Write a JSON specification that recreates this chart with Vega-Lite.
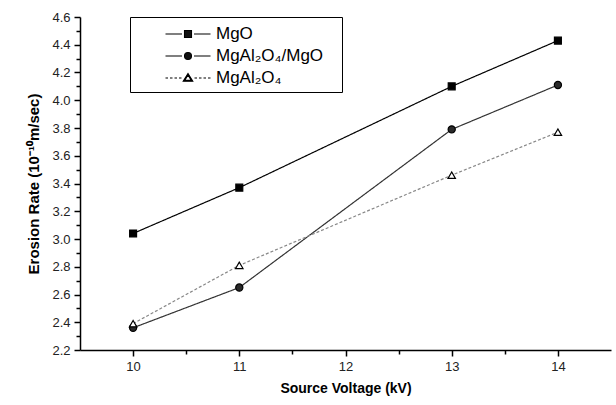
{
  "$schema": "https://vega.github.io/schema/vega-lite/v6.json",
  "width": 531,
  "height": 333,
  "autosize": {"type": "none"},
  "padding": {"left": 80, "top": 17, "right": 5, "bottom": 55},
  "background": "white",
  "config": {
    "view": {"stroke": null},
    "font": "Liberation Sans"
  },
  "data": {
    "values": [
      {"series": "MgO", "voltage": 10, "rate": 3.04},
      {"series": "MgO", "voltage": 11, "rate": 3.37},
      {"series": "MgO", "voltage": 13, "rate": 4.10},
      {"series": "MgO", "voltage": 14, "rate": 4.43},
      {"series": "MgAl₂O₄/MgO", "voltage": 10, "rate": 2.36},
      {"series": "MgAl₂O₄/MgO", "voltage": 11, "rate": 2.65},
      {"series": "MgAl₂O₄/MgO", "voltage": 13, "rate": 3.79},
      {"series": "MgAl₂O₄/MgO", "voltage": 14, "rate": 4.11},
      {"series": "MgAl₂O₄", "voltage": 10, "rate": 2.39},
      {"series": "MgAl₂O₄", "voltage": 11, "rate": 2.81},
      {"series": "MgAl₂O₄", "voltage": 13, "rate": 3.46},
      {"series": "MgAl₂O₄", "voltage": 14, "rate": 3.77}
    ]
  },
  "encoding": {
    "x": {
      "field": "voltage", "type": "quantitative",
      "scale": {"domain": [9.5, 14.5], "nice": false, "zero": false},
      "axis": {
        "title": "Source Voltage (kV)",
        "values": [10, 10.5, 11, 11.5, 12, 12.5, 13, 13.5, 14],
        "labelExpr": "datum.value % 1 == 0 ? format(datum.value, 'd') : ''",
        "grid": false,
        "domainColor": "black", "domainWidth": 1.5,
        "tickColor": "black", "tickWidth": 1.5,
        "tickSize": {"condition": {"test": "datum.value % 1 == 0", "value": 6}, "value": 4},
        "labelFontSize": 13, "labelColor": "#222", "labelPadding": 4,
        "titleFontSize": 14, "titleFontWeight": "bold", "titleColor": "black", "titlePadding": 8
      }
    },
    "y": {
      "field": "rate", "type": "quantitative",
      "scale": {"domain": [2.2, 4.6], "nice": false, "zero": false},
      "axis": {
        "title": "Erosion Rate (10⁻¹⁰m/sec)",
        "values": [2.2, 2.3, 2.4, 2.5, 2.6, 2.7, 2.8, 2.9, 3.0, 3.1, 3.2, 3.3, 3.4, 3.5, 3.6, 3.7, 3.8, 3.9, 4.0, 4.1, 4.2, 4.3, 4.4, 4.5, 4.6],
        "labelExpr": "round(datum.value * 10) % 2 == 0 ? format(datum.value, '.1f') : ''",
        "grid": false,
        "domainColor": "black", "domainWidth": 1.5,
        "tickColor": "black", "tickWidth": 1.5,
        "tickSize": {"condition": {"test": "round(datum.value * 10) % 2 == 0", "value": 6}, "value": 4},
        "labelFontSize": 13, "labelColor": "#222", "labelPadding": 4,
        "titleFontSize": 15, "titleFontWeight": "bold", "titleColor": "black", "titlePadding": 10
      }
    }
  },
  "layer": [
    {
      "mark": {"type": "line", "strokeWidth": 1.2},
      "encoding": {
        "color": {
          "field": "series", "type": "nominal",
          "scale": {"domain": ["MgO", "MgAl₂O₄/MgO", "MgAl₂O₄"], "range": ["#000000", "#333333", "#888888"]},
          "legend": null
        },
        "strokeDash": {
          "field": "series", "type": "nominal",
          "scale": {"domain": ["MgO", "MgAl₂O₄/MgO", "MgAl₂O₄"], "range": [[1, 0], [1, 0], [3, 2]]},
          "legend": null
        }
      }
    },
    {
      "mark": {"type": "point", "filled": true, "stroke": "black", "strokeWidth": 1.2, "opacity": 1},
      "encoding": {
        "shape": {
          "field": "series", "type": "nominal",
          "scale": {"domain": ["MgO", "MgAl₂O₄/MgO", "MgAl₂O₄"], "range": ["square", "circle", "triangle-up"]},
          "legend": null
        },
        "fill": {
          "field": "series", "type": "nominal",
          "scale": {"domain": ["MgO", "MgAl₂O₄/MgO", "MgAl₂O₄"], "range": ["#000000", "#2a2a2a", "#ffffff"]},
          "legend": null
        },
        "size": {
          "field": "series", "type": "nominal",
          "scale": {"domain": ["MgO", "MgAl₂O₄/MgO", "MgAl₂O₄"], "range": [48, 55, 80]},
          "legend": null
        }
      }
    },
    {
      "mark": {"type": "point", "filled": true, "fill": "#111111", "opacity": 0, "stroke": "black"},
      "encoding": {
        "shape": {
          "field": "series", "type": "nominal",
          "scale": {
            "domain": ["MgO", "MgAl₂O₄/MgO", "MgAl₂O₄"],
            "range": [
              "M1.15,0H2.8M4.0,0H5.65M3.05,-0.35H3.75V0.35H3.05Z",
              "M1.15,0H2.8M4.0,0H5.65M3.05,0A0.35,0.35 0 1,0 3.75,0A0.35,0.35 0 1,0 3.05,0Z",
              "M1.15,0H1.4M1.6,0H1.85M2.05,0H2.3M2.5,0H2.75M4.05,0H4.3M4.5,0H4.75M4.95,0H5.2M5.4,0H5.65M3.4,-0.45L3.88,0.33H2.92ZM3.4,-0.3L3.07,0.24H3.73Z"
            ]
          },
          "legend": {
            "title": "\u2800",
            "titleOrient": "left",
            "titlePadding": 0,
            "titleFontSize": 10,
            "orient": "none",
            "legendX": 50,
            "legendY": 0,
            "strokeColor": "black",
            "fillColor": "white",
            "padding": 6,
            "symbolSize": 400,
            "symbolStrokeWidth": 1.1,
            "labelFont": "Liberation Sans",
            "labelFontSize": 17,
            "labelColor": "black",
            "labelOffset": 51,
            "rowPadding": 3,
            "labelExpr": "datum.label + '\u2800'",
            "encode": {
              "symbols": {
                "opacity": {"value": 1}
              }
            }
          }
        }
      }
    }
  ],
  "resolve": {"scale": {"shape": "independent"}}
}
